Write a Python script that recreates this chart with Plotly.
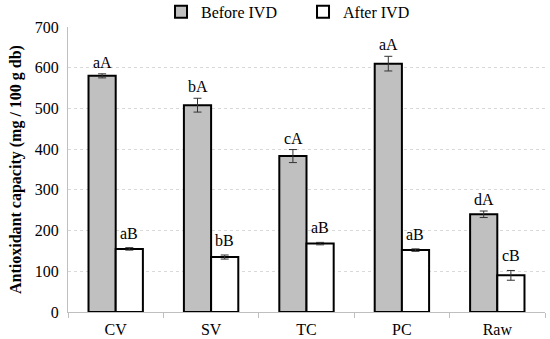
import plotly.graph_objects as go

categories = ["CV", "SV", "TC", "PC", "Raw"]
before_vals = [580, 508, 383, 610, 240]
before_err = [5, 17, 16, 18, 8]
before_labels = ["aA", "bA", "cA", "aA", "dA"]
after_vals = [155, 135, 168, 152, 90]
after_err = [3, 5, 3, 3, 12]
after_labels = ["aB", "bB", "aB", "aB", "cB"]
y_ticks = [0, 100, 200, 300, 400, 500, 600, 700]

FONT = "Liberation Serif, Times New Roman, serif"

fig = go.Figure()
fig.add_trace(go.Bar(
    name="Before IVD", x=categories, y=before_vals,
    marker=dict(color="#c0c0c0", line=dict(color="black", width=2)),
    error_y=dict(type="data", array=before_err, color="#333333", thickness=1, width=4),
    offsetgroup="b",
))
fig.add_trace(go.Bar(
    name="After IVD", x=categories, y=after_vals,
    marker=dict(color="white", line=dict(color="black", width=2)),
    error_y=dict(type="data", array=after_err, color="#333333", thickness=1, width=4),
    offsetgroup="a",
))

annotations = []
for i, c in enumerate(categories):
    annotations.append(dict(x=c, y=before_vals[i] + before_err[i], text=before_labels[i],
                            xref="x", yref="y", showarrow=False, yanchor="bottom", yshift=1,
                            xshift=-13.5, font=dict(family=FONT, size=16, color="black")))
    annotations.append(dict(x=c, y=after_vals[i] + after_err[i], text=after_labels[i],
                            xref="x", yref="y", showarrow=False, yanchor="bottom", yshift=4,
                            xshift=13.5, font=dict(family=FONT, size=16, color="black")))

fig.update_layout(
    width=550, height=339,
    margin=dict(l=68, r=5, t=27, b=27, autoexpand=False),
    paper_bgcolor="white", plot_bgcolor="white",
    barmode="group", bargap=0.43, bargroupgap=0,
    font=dict(family=FONT, size=16, color="black"),
    showlegend=True,
    legend=dict(orientation="h", x=0.195, xanchor="left", y=1.053, yanchor="middle",
                font=dict(family=FONT, size=16, color="black"),
                entrywidth=97, entrywidthmode="pixels",
                itemwidth=30, tracegroupgap=0, bgcolor="rgba(0,0,0,0)"),
    annotations=annotations,
    xaxis=dict(showline=True, linecolor="#bfbfbf", linewidth=1, ticks="outside",
               tickson="boundaries", ticklen=5, tickcolor="#bfbfbf", automargin=False,
               ticklabelstandoff=3,
               showgrid=False, tickfont=dict(family=FONT, size=16, color="black")),
    yaxis=dict(range=[0, 700], tickvals=y_ticks, showline=True, linecolor="#bfbfbf",
               linewidth=1, showgrid=True, gridcolor="#d9d9d9", griddash="dot",
               zeroline=False, ticks="", ticklabelstandoff=5, automargin=False,
               tickfont=dict(family=FONT, size=16, color="black"),
               title=dict(text="<b>Antioxidant capacity (mg / 100 g db)</b>",
                          font=dict(family=FONT, size=16, color="black"), standoff=9)),
)

fig.write_html("out.html", config={"displayModeBar": False},
               post_script="document.body.style.margin='0';document.body.style.overflow='hidden';")
